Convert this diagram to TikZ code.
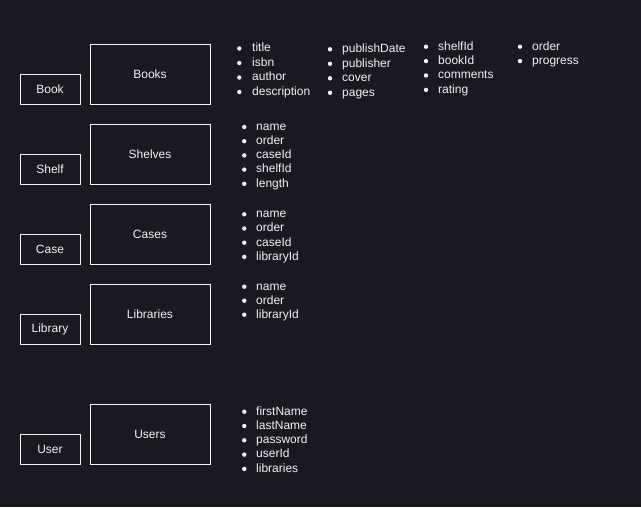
\documentclass[tikz,border=0pt]{standalone}
\usepackage{fontspec}
\setmainfont{Liberation Sans}
\definecolor{bg}{HTML}{1A1820}
\definecolor{fg}{HTML}{F2F2F2}
\begin{document}
\begin{tikzpicture}[x=1pt,y=-1pt,
  every node/.style={font=\fontsize{12}{14}\selectfont, text=fg},
  smallbox/.style={draw=fg, line width=1pt, minimum width=60pt, minimum height=30pt, inner sep=0pt},
  bigbox/.style={draw=fg, line width=1pt, minimum width=120pt, minimum height=60pt, inner sep=0pt},
  item/.style={anchor=base west, inner sep=0pt},
  dot/.style={fill=fg}]
\fill[bg] (0,0) rectangle (641,507);
\useasboundingbox (0,0) rectangle (641,507);

% entity boxes
\node[smallbox] (book) at (50,89) {Book};
\node[bigbox] (books) at (150,74) {Books};
\node[smallbox] (shelf) at (50,169) {Shelf};
\node[bigbox] (shelves) at (150,154) {Shelves};
\node[smallbox] (case) at (50,249) {Case};
\node[bigbox] (cases) at (150,234) {Cases};
\node[smallbox] (library) at (50,329) {Library};
\node[bigbox] (libraries) at (150,314) {Libraries};
\node[smallbox] (user) at (50,449) {User};
\node[bigbox] (users) at (150,434) {Users};

% Books fields
\foreach \t [count=\i] in {title,isbn,author,description} {
  \pgfmathsetmacro{\yy}{51.8+14.5*(\i-1)}
  \node[item] (bka-\i) at (252,\yy) {\t};
  \fill[dot] (239.3,\yy-3.3) circle (2.2);
}
\foreach \t [count=\i] in {publishDate,publisher,cover,pages} {
  \pgfmathsetmacro{\yy}{52.6+14.5*(\i-1)}
  \node[item] (bkb-\i) at (342,\yy) {\t};
  \fill[dot] (330,\yy-3.3) circle (2.2);
}
\foreach \t [count=\i] in {shelfId,bookId,comments,rating} {
  \pgfmathsetmacro{\yy}{50+14.4*(\i-1)}
  \node[item] (bkc-\i) at (438,\yy) {\t};
  \fill[dot] (426,\yy-3.3) circle (2.2);
}
\foreach \t [count=\i] in {order,progress} {
  \pgfmathsetmacro{\yy}{50+14.4*(\i-1)}
  \node[item] (bkd-\i) at (532,\yy) {\t};
  \fill[dot] (520,\yy-3.3) circle (2.2);
}

% Shelves fields
\foreach \t [count=\i] in {name,order,caseId,shelfId,length} {
  \pgfmathsetmacro{\yy}{130.3+14.2*(\i-1)}
  \node[item] (sh-\i) at (256,\yy) {\t};
  \fill[dot] (244.3,\yy-3.3) circle (2.2);
}
% Cases fields
\foreach \t [count=\i] in {name,order,caseId,libraryId} {
  \pgfmathsetmacro{\yy}{217.6+14.2*(\i-1)}
  \node[item] (ca-\i) at (256,\yy) {\t};
  \fill[dot] (244.3,\yy-3.3) circle (2.2);
}
% Libraries fields
\foreach \t [count=\i] in {name,order,libraryId} {
  \pgfmathsetmacro{\yy}{290+14*(\i-1)}
  \node[item] (li-\i) at (256,\yy) {\t};
  \fill[dot] (244.3,\yy-3.3) circle (2.2);
}
% Users fields
\foreach \t [count=\i] in {firstName,lastName,password,userId,libraries} {
  \pgfmathsetmacro{\yy}{415+14.3*(\i-1)}
  \node[item] (us-\i) at (256,\yy) {\t};
  \fill[dot] (244.3,\yy-3.3) circle (2.2);
}
\end{tikzpicture}
\end{document}
